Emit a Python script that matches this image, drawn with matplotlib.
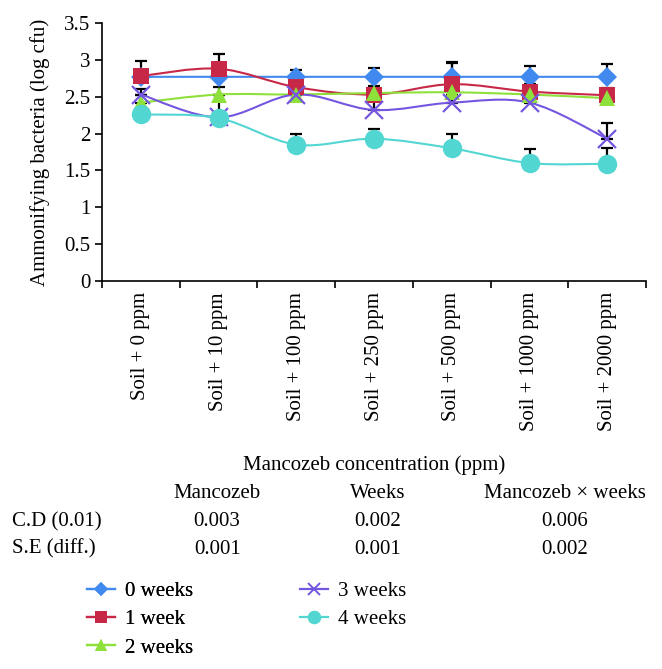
#!/usr/bin/env python3
import numpy as np
import matplotlib
matplotlib.use("Agg")
import matplotlib.pyplot as plt
from matplotlib.path import Path
from matplotlib.patches import PathPatch
from matplotlib.lines import Line2D

categories = ["Soil + 0 ppm", "Soil + 10 ppm", "Soil + 100 ppm", "Soil + 250 ppm",
              "Soil + 500 ppm", "Soil + 1000 ppm", "Soil + 2000 ppm"]

week0 = [2.77, 2.77, 2.77, 2.77, 2.77, 2.77, 2.77]
week1 = [2.78, 2.88, 2.63, 2.53, 2.67, 2.57, 2.52]
week2 = [2.42, 2.53, 2.53, 2.55, 2.56, 2.53, 2.48]
week3 = [2.53, 2.22, 2.53, 2.32, 2.42, 2.42, 1.93]
week4 = [2.26, 2.21, 1.85, 1.93, 1.80, 1.60, 1.59]

err0 = [0.05, 0.05, 0.09, 0.12, 0.20, 0.15, 0.17]
err1 = [0.20, 0.20, 0.15, 0.10, 0.29, 0.10, 0.10]
err2 = [0.10, 0.10, 0.10, 0.10, 0.10, 0.10, 0.10]
err3 = [0.08, 0.30, 0.05, 0.15, 0.10, 0.10, 0.21]
err4 = [0.05, 0.05, 0.15, 0.13, 0.20, 0.19, 0.22]

labels = ["0 weeks", "1 week", "2 weeks", "3 weeks", "4 weeks"]
colors = ["#4189ee", "#c82848", "#8ee03a", "#7556e0", "#52d6d2"]
markers = ["D", "s", "^", "x", "o"]
msizes = [10, 12, 12, 13, 14]

stat_cols = ["Mancozeb", "Weeks", "Mancozeb \u00d7 weeks"]
cd_vals = ["0.003", "0.002", "0.006"]
se_vals = ["0.001", "0.001", "0.002"]

plt.rcParams["font.family"] = ["Liberation Serif", "DejaVu Serif"]
plt.rcParams["font.size"] = 15


def smooth_path(x, y):
    # Excel-like smoothed line (Catmull-Rom as cubic Bezier)
    verts = [(x[0], y[0])]
    codes = [Path.MOVETO]
    n = len(x)
    for i in range(n - 1):
        x0, y0 = (x[i - 1], y[i - 1]) if i > 0 else (x[i], y[i])
        x3, y3 = (x[i + 2], y[i + 2]) if i + 2 < n else (x[i + 1], y[i + 1])
        c1 = (x[i] + (x[i + 1] - x0) / 6, y[i] + (y[i + 1] - y0) / 6)
        c2 = (x[i + 1] - (x3 - x[i]) / 6, y[i + 1] - (y3 - y[i]) / 6)
        verts += [c1, c2, (x[i + 1], y[i + 1])]
        codes += [Path.CURVE4] * 3
    return Path(verts, codes)


fig = plt.figure(figsize=(6.62, 6.69), dpi=100)
ax = fig.add_axes([0.154, 0.58, 0.822, 0.3856])

x = np.arange(len(categories))
series = [week0, week1, week2, week3, week4]
errs = [err0, err1, err2, err3, err4]

for vals, er in zip(series, errs):
    ax.errorbar(x, vals, yerr=[np.zeros(len(er)), er], fmt="none", ecolor="black",
                elinewidth=1.6, capsize=4, capthick=1.6, zorder=2)

for vals, c, m, ms in zip(series, colors, markers, msizes):
    ax.add_patch(PathPatch(smooth_path(x, vals), facecolor="none", edgecolor=c,
                           linewidth=1.5, zorder=3))
    ax.plot(x, vals, linestyle="none", marker=m, color=c, markersize=ms,
            markeredgewidth=1.6 if m == "x" else 0, zorder=4)

ax.set_xlim(-0.5, len(categories) - 0.5)
ax.set_ylim(0, 3.5)
ax.set_yticks(np.arange(0, 3.51, 0.5))
ax.set_yticklabels(["0", "0.5", "1", "1.5", "2", "2.5", "3", "3.5"])
ax.set_xticks(x)
ax.set_xticklabels(categories, rotation=90)
ax.set_xticks(np.arange(-0.5, len(categories), 1), minor=True)
ax.tick_params(axis="x", which="major", length=0, pad=8)
ax.tick_params(axis="x", which="minor", length=5, width=1.2, direction="out")
ax.tick_params(axis="y", length=5, width=1.2, direction="out")
for s in ["top", "right"]:
    ax.spines[s].set_visible(False)
for s in ["left", "bottom"]:
    ax.spines[s].set_linewidth(1.2)
ax.set_ylabel("Ammonifying bacteria (log cfu)", labelpad=10)
ax.set_xlabel("Mancozeb concentration (ppm)", labelpad=17)

# statistics table
col_x = [0.328, 0.571, 0.853]
row_y = [1 - 494 / 669, 1 - 522 / 669, 1 - 549 / 669]
for cx, head, cd, se in zip(col_x, stat_cols, cd_vals, se_vals):
    fig.text(cx, row_y[0], head, ha="center", va="center")
    fig.text(cx, row_y[1], cd, ha="center", va="center")
    fig.text(cx, row_y[2], se, ha="center", va="center")
fig.text(0.018, row_y[1], "C.D (0.01)", ha="left", va="center")
fig.text(0.018, row_y[2], "S.E (diff.)", ha="left", va="center")

handles = [Line2D([], [], color=c, marker=m, markersize=ms * 0.7, linewidth=1.6,
                  markeredgewidth=1.4 if m == "x" else 0)
           for c, m, ms in zip(colors, markers, msizes)]
leg_kw = dict(loc="upper left", frameon=False, borderpad=0, borderaxespad=0,
              handlelength=1.35, labelspacing=0.42, handletextpad=0.5)
leg1 = fig.legend(handles[:3], labels[:3], bbox_to_anchor=(0.131, 0.131), **leg_kw)
fig.add_artist(leg1)
fig.legend(handles[3:], labels[3:], bbox_to_anchor=(0.453, 0.131), **leg_kw)

fig.savefig("out.png", dpi=100)
